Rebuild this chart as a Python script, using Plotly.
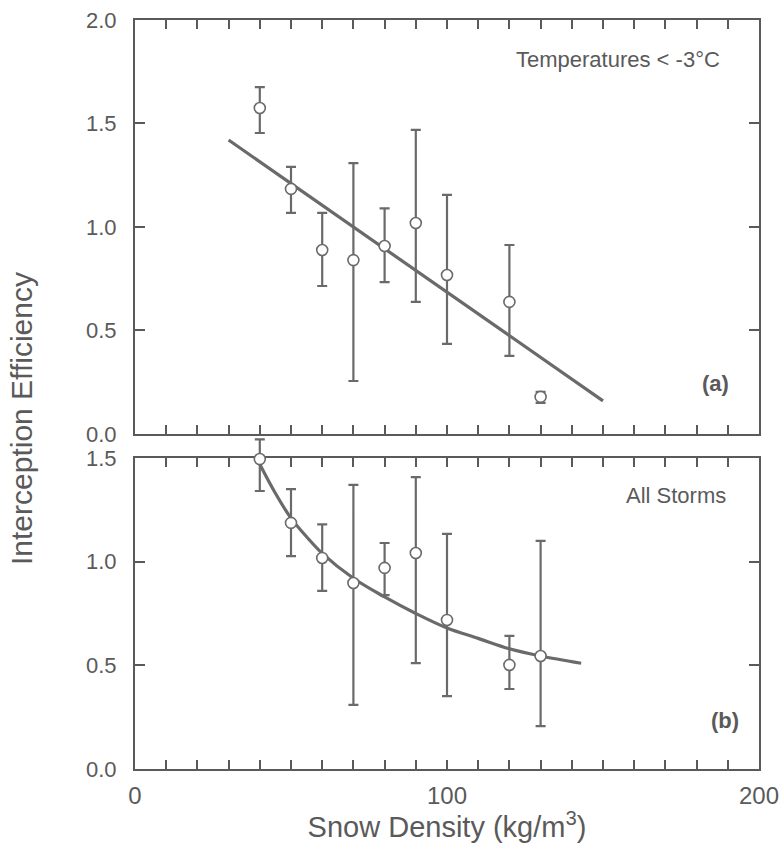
import plotly.graph_objects as go

# ---- Panel (a): Temperatures < -3°C ----
a_density = [40, 50, 60, 70, 80, 90, 100, 120, 130]
a_eff = [1.575, 1.184, 0.889, 0.84, 0.908, 1.019, 0.768, 0.638, 0.179]
a_upper = [1.676, 1.29, 1.068, 1.309, 1.09, 1.469, 1.155, 0.913, 0.203]
a_lower = [1.454, 1.068, 0.715, 0.256, 0.734, 0.638, 0.435, 0.377, 0.15]
a_fit_x = [30, 150]
a_fit_y = [1.42, 0.16]

# ---- Panel (b): All Storms ----
b_density = [40, 50, 60, 70, 80, 90, 100, 120, 130]
b_eff = [1.495, 1.187, 1.018, 0.897, 0.97, 1.042, 0.719, 0.502, 0.545]
b_upper = [1.59, 1.35, 1.18, 1.37, 1.09, 1.408, 1.134, 0.642, 1.10]
b_lower = [1.341, 1.027, 0.859, 0.309, 0.839, 0.511, 0.352, 0.386, 0.207]
b_fit_x = [40, 45, 50, 55, 60, 70, 80, 90, 100, 110, 120, 130, 143]
b_fit_y = [1.47, 1.33, 1.21, 1.12, 1.04, 0.92, 0.83, 0.75, 0.68, 0.63, 0.58, 0.545, 0.51]

GRAY = "#5a5a5a"
LINE = "#6a6a6a"
FONT = "Liberation Sans, Arial, sans-serif"

TOP_DOM = [0.4473, 1.0]
BOT_DOM = [0.0, 0.4152]
BOT_RANGE = [0, 1.5]
# invisible helper axis: same scale as the bottom panel, but taller so the
# whisker above the panel frame (x=40) is not clipped
EXT_TOP = 0.445
EXT_RANGE = [0, BOT_RANGE[1] * EXT_TOP / BOT_DOM[1]]

fig = go.Figure()


def errs(ys, up, lo):
    return dict(type="data", symmetric=False,
                array=[u - v for u, v in zip(up, ys)],
                arrayminus=[v - l for v, l in zip(ys, lo)],
                color=LINE, thickness=2.2, width=5)


marker = dict(symbol="circle", size=11, color="white",
              line=dict(color=LINE, width=1.6))

fig.add_trace(go.Scatter(x=a_fit_x, y=a_fit_y, mode="lines", xaxis="x", yaxis="y",
                         line=dict(color=LINE, width=3.2), hoverinfo="skip"))
fig.add_trace(go.Scatter(x=a_density, y=a_eff, mode="markers", xaxis="x", yaxis="y",
                         marker=marker, error_y=errs(a_eff, a_upper, a_lower)))
fig.add_trace(go.Scatter(x=b_fit_x, y=b_fit_y, mode="lines", xaxis="x2", yaxis="y2",
                         line=dict(color=LINE, width=3.2, shape="spline"),
                         hoverinfo="skip"))
fig.add_trace(go.Scatter(x=b_density, y=b_eff, mode="markers", xaxis="x2", yaxis="y3",
                         cliponaxis=False,
                         marker=marker, error_y=errs(b_eff, b_upper, b_lower)))

common_x = dict(range=[0, 200], tick0=0, dtick=100, domain=[0, 1],
                ticks="inside", ticklen=9, tickwidth=1.6, tickcolor=GRAY,
                minor=dict(dtick=10, ticks="inside", ticklen=9, tickwidth=1.6,
                           tickcolor=GRAY, showgrid=False),
                showline=True, linecolor=GRAY, linewidth=2, mirror="ticks",
                showgrid=False, zeroline=False, automargin=False,
                tickfont=dict(family=FONT, size=24, color=GRAY))

common_y = dict(ticks="inside", ticklen=10, tickwidth=1.6, tickcolor=GRAY,
                showline=True, linecolor=GRAY, linewidth=2, mirror="ticks",
                showgrid=False, zeroline=False, tickformat=".1f",
                ticklabelstandoff=12, automargin=False,
                tickfont=dict(family=FONT, size=22, color=GRAY))

fig.update_layout(
    xaxis=dict(**common_x, anchor="y", showticklabels=False),
    xaxis2=dict(**common_x, anchor="y2", ticklabelstandoff=4,
                title=dict(text="Snow Density (kg/m<sup>3</sup>)",
                           font=dict(family=FONT, size=29, color=GRAY),
                           standoff=4)),
    yaxis=dict(**common_y, anchor="x", domain=TOP_DOM, range=[0, 2.0],
               tickvals=[0, 0.5, 1.0, 1.5, 2.0]),
    yaxis2=dict(**common_y, anchor="x2", domain=BOT_DOM, range=BOT_RANGE,
                tickvals=[0, 0.5, 1.0, 1.5]),
    yaxis3=dict(anchor="x2", domain=[0, EXT_TOP], range=EXT_RANGE,
                visible=False, showgrid=False, zeroline=False),
)

ann_font = dict(family=FONT, size=22, color=GRAY)
fig.add_annotation(x=188, y=1.807, xref="x", yref="y", text="Temperatures < -3°C",
                   showarrow=False, xanchor="right", yanchor="middle", font=ann_font)
fig.add_annotation(x=186, y=0.246, xref="x", yref="y", text="<b>(a)</b>",
                   showarrow=False, xanchor="center", yanchor="middle", font=ann_font)
fig.add_annotation(x=190, y=1.32, xref="x2", yref="y2", text="All Storms",
                   showarrow=False, xanchor="right", yanchor="middle", font=ann_font)
fig.add_annotation(x=189, y=0.236, xref="x2", yref="y2", text="<b>(b)</b>",
                   showarrow=False, xanchor="center", yanchor="middle", font=ann_font)

# y-axis title spanning both panels (pixel position converted to paper coords)
pw, ph = 784 - 135 - 25, 843 - 20 - 74
fig.add_annotation(x=(22 - 135) / pw, y=(843 - 74 - 419) / ph,
                   xref="paper", yref="paper",
                   text="Interception Efficiency", textangle=-90,
                   showarrow=False, xanchor="center", yanchor="middle",
                   font=dict(family=FONT, size=30, color=GRAY))

fig.update_layout(width=784, height=843,
                  margin=dict(l=135, r=25, t=20, b=74),
                  plot_bgcolor="rgba(0,0,0,0)", paper_bgcolor="white",
                  showlegend=False)

fig.write_html("out.html")
